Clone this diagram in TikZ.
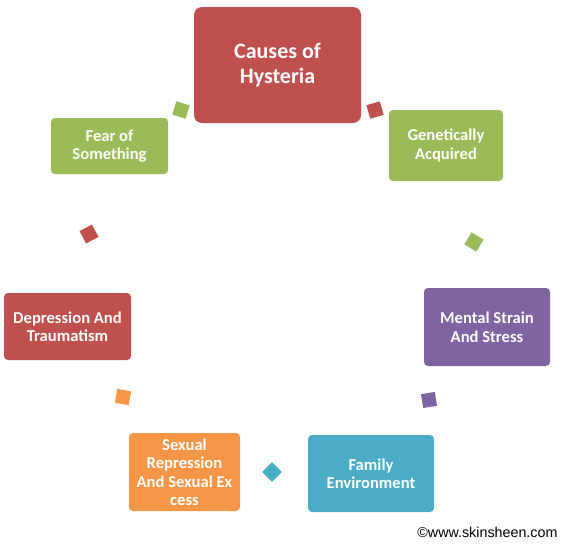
\documentclass[tikz,border=0pt]{standalone}
\usepackage{fontspec}
\setmainfont{Carlito}
\newfontfamily\markfont{Liberation Sans}
\usetikzlibrary{positioning}
\definecolor{hred}{HTML}{C0504D}
\definecolor{hgreen}{HTML}{9BBB59}
\definecolor{hpurple}{HTML}{8064A2}
\definecolor{hblue}{HTML}{4BACC6}
\definecolor{horange}{HTML}{F79646}

\begin{document}
\begin{tikzpicture}[x=1pt, y=-1pt,
  cause/.style={rounded corners=4pt, text=white, align=center,
                font=\fontsize{16.6}{18.5}\selectfont\bfseries, inner sep=2pt},
  tick/.style={minimum size=14pt, inner sep=0pt}]
  \useasboundingbox (0,0) rectangle (565,544);
  % boxes of the cycle
  \node[cause, fill=hred, minimum width=167pt, minimum height=116pt, rounded corners=8pt,
        font=\fontsize{22}{24.5}\selectfont\bfseries] (hyst) at (277.5,65) {Causes of\\Hysteria};
  \node[cause, fill=hgreen, minimum width=114pt, minimum height=71pt] (gene) at (446,145.5) {Genetically\\Acquired};
  \node[cause, fill=hpurple, minimum width=126pt, minimum height=78pt] (ment) at (487,327) {Mental Strain\\And Stress};
  \node[cause, fill=hblue, minimum width=126pt, minimum height=77pt] (fam) at (371,473.5) {Family\\Environment};
  \node[cause, fill=horange, minimum width=111pt, minimum height=78pt] (sex) at (184.5,472) {Sexual\\Repression\\And Sexual Ex\\cess};
  \node[cause, fill=hred, minimum width=127pt, minimum height=67pt] (depr) at (67.5,326.5) {Depression And\\Traumatism};
  \node[cause, fill=hgreen, minimum width=117pt, minimum height=56pt] (fear) at (109.5,146) {Fear of\\Something};
  % small squares between them
  \node[tick, fill=hred, rotate=16] (t1) at (375,110) {};
  \node[tick, fill=hgreen, rotate=-31] (t2) at (474,242) {};
  \node[tick, fill=hpurple, rotate=9] (t3) at (429,400) {};
  \node[tick, fill=hblue, rotate=45] (t4) at (272,472) {};
  \node[tick, fill=horange, rotate=-10] (t5) at (123,397) {};
  \node[tick, fill=hred, rotate=28] (t6) at (89,234) {};
  \node[tick, fill=hgreen, rotate=-17] (t7) at (181,110) {};
  \node[font=\markfont\fontsize{14.3}{16}\selectfont, anchor=east] (copy) at (561,532) {©www.skinsheen.com};
\end{tikzpicture}
\end{document}
